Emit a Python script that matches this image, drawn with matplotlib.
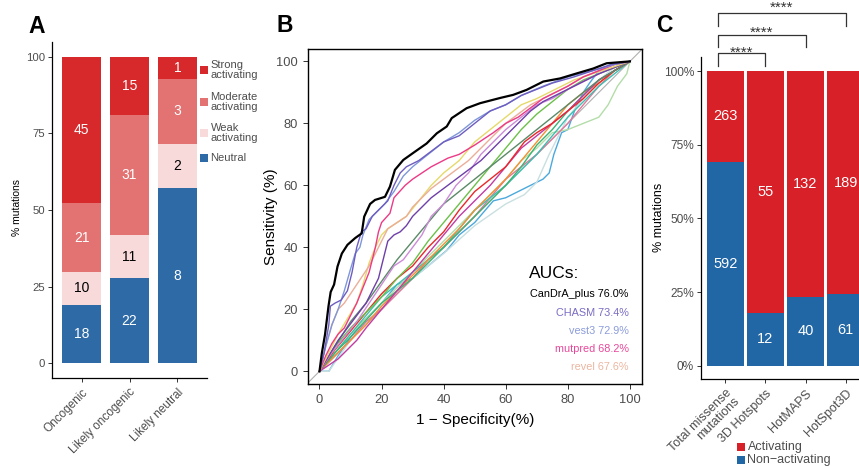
import matplotlib
matplotlib.use("Agg")
import matplotlib.pyplot as plt
from matplotlib.patches import Rectangle
import numpy as np

plt.rcParams['font.family'] = ['Liberation Sans', 'DejaVu Sans']

# ---------------- Panel A data ----------------
groups_a = ['Oncogenic', 'Likely oncogenic', 'Likely neutral']
neutral_n = [18, 22, 8]
weak_n = [10, 11, 2]
moderate_n = [21, 31, 3]
strong_n = [45, 15, 1]
legend_a = ['Strong\nactivating', 'Moderate\nactivating', 'Weak\nactivating', 'Neutral']

# ---------------- Panel B data (ROC curves, % units) ----------------
candra_fpr = [0, 0.75, 1.8, 2.9, 3.6, 4.7, 5.8, 7.2, 9, 11.5, 13.6, 14.4, 16.3, 17.9, 21.1, 22.7, 24.3, 27, 30.8,
              34.5, 37.8, 41, 42.6, 47.4, 51.7, 58.2, 62.4, 66.7, 72.1, 77.5, 82.8, 88.2, 92.5, 100]
candra_tpr = [0, 5.8, 12, 21, 25.6, 28, 33.8, 38, 40.8, 43, 44.5, 49.9, 54, 55.3, 56.3, 59.6, 65, 68.2, 70.9,
              73.5, 76.8, 79, 81.7, 84.9, 86.5, 88.2, 89.2, 90.8, 93.5, 94.5, 96.1, 97.7, 99.4, 100]
chasm_fpr = [0, 1.5, 3, 3.5, 5, 7, 9, 10.5, 12, 13.5, 15, 17, 20, 22, 24, 26, 28, 32, 36, 40, 45, 50, 55, 60,
             65, 70, 75, 82, 88, 94, 100]
chasm_tpr = [0, 6, 15, 21, 22, 23, 26, 32, 40, 45, 46, 50, 53, 55, 60, 64, 66, 68, 71, 74, 76, 80, 84, 86,
             89, 91, 93, 95, 97, 99, 100]
vest3_fpr = [0, 2, 4, 6, 8, 10, 11.5, 13, 14, 16, 18, 21, 24, 27, 30, 35, 40, 45, 50, 55, 60, 65, 72, 80, 88,
             95, 100]
vest3_tpr = [0, 8, 15, 20, 26, 33, 38, 40, 44, 49, 51, 54, 58, 63, 66, 70, 74, 77, 81, 84, 86, 89, 92, 95, 97,
             99, 100]
mutpred_fpr = [0, 2, 4, 6, 8, 10, 12, 14, 16, 17, 18, 19, 20, 22.7, 24, 27.6, 30, 33, 36, 41.4, 45, 50, 56,
               60, 64, 68, 72, 76, 80, 85, 90, 95, 100]
mutpred_tpr = [0, 5, 9, 12, 14, 18, 22, 27, 32, 36, 40, 45, 48, 51, 56, 60, 62, 64, 66, 68.8, 70, 73, 77,
               80, 82, 85, 88, 90, 92, 95, 97, 99, 100]
revel_fpr = [0, 2, 4, 6, 8, 10, 12, 14, 16, 18, 20, 22, 25, 28, 30, 33, 36, 40, 44, 48, 52, 56, 60, 64, 68,
             72, 76, 80, 85, 90, 95, 100]
revel_tpr = [0, 8, 15, 20, 22, 25, 28, 31, 34, 38, 42, 46, 48, 50, 53, 56, 59, 62, 65, 68, 72, 76, 80, 83, 86,
             88, 90, 92, 95, 97, 99, 100]
yellow_fpr = [0, 3, 6, 9, 12, 14, 16, 18, 20, 22, 25, 28, 32, 36, 40, 45, 50, 55, 60, 65, 70, 76, 82, 88, 94, 100]
yellow_tpr = [0, 6, 12, 17, 22, 28, 35, 40, 44, 46, 48, 50, 55, 60, 64, 68, 74, 78, 82, 86, 88, 91, 94, 96, 98, 100]
dpurple_fpr = [0, 3, 6, 9, 12, 15, 17, 19, 20, 21, 22, 24, 26, 28, 30, 33, 36, 40, 44, 48, 52, 56, 60, 64, 68,
               72, 78, 84, 90, 95, 100]
dpurple_tpr = [0, 5, 10, 14, 18, 22, 26, 30, 34, 38, 42, 44, 45, 47, 50, 53, 56, 59, 62, 65, 68, 72, 76, 80, 84,
               87, 90, 93, 96, 98, 100]
orchid_fpr = [0, 4, 8, 12, 16, 20, 24, 27, 30, 33, 36, 40, 44, 48, 52, 56, 60, 65, 70, 75, 80, 86, 92, 100]
orchid_tpr = [0, 6, 11, 16, 22, 28, 34, 36, 40, 44, 50, 54, 60, 64, 70, 74, 78, 82, 86, 88, 91, 94, 97, 100]
dgreen_fpr = [0, 5, 10, 15, 20, 25, 30, 35, 40, 45, 50, 55, 60, 65, 70, 75, 80, 85, 90, 95, 100]
dgreen_tpr = [0, 8, 16, 22, 29, 36, 42, 48, 54, 58, 62, 66, 70, 74, 78, 82, 86, 90, 94, 97, 100]
green_fpr = [0, 5, 10, 15, 20, 25, 30, 35, 40, 45, 50, 55, 60, 65, 70, 75, 80, 85, 90, 95, 100]
green_tpr = [0, 8, 14, 19, 24, 30, 35, 42, 48, 54, 60, 66, 72, 78, 83, 87, 91, 94, 96, 98, 100]
red_fpr = [0, 5, 10, 15, 20, 25, 30, 35, 40, 45, 50, 55, 60, 63, 66, 70, 75, 80, 85, 90, 95, 100]
red_tpr = [0, 7, 13, 19, 25, 30, 34, 40, 45, 52, 58, 62, 66, 70, 74, 77, 80, 84, 88, 93, 97, 100]
orange_fpr = [0, 5, 10, 15, 20, 25, 30, 35, 40, 45, 50, 55, 60, 65, 70, 75, 80, 85, 90, 95, 100]
orange_tpr = [0, 5, 10, 15, 21, 26, 31, 36, 41, 46, 52, 57, 62, 68, 74, 80, 86, 90, 93, 97, 100]
teal_fpr = [0, 5, 10, 15, 20, 25, 30, 35, 40, 45, 50, 55, 60, 65, 70, 75, 80, 85, 90, 95, 100]
teal_tpr = [0, 6, 12, 18, 24, 28, 32, 36, 40, 46, 52, 56, 60, 65, 70, 76, 82, 87, 92, 96, 100]
mgreen_fpr = [0, 5, 10, 20, 30, 40, 50, 55, 60, 65, 70, 75, 80, 85, 90, 95, 100]
mgreen_tpr = [0, 6, 11, 22, 30, 40, 50, 55, 60, 66, 73, 78, 84, 89, 94, 97, 100]
lpink_fpr = [0, 5, 10, 15, 20, 25, 30, 35, 40, 45, 50, 55, 60, 65, 70, 75, 80, 85, 90, 95, 100]
lpink_tpr = [0, 5, 10, 16, 20, 25, 30, 36, 40, 45, 50, 56, 62, 66, 70, 75, 80, 86, 92, 97, 100]
magenta_fpr = [0, 3, 6, 9, 12, 15, 20, 25, 30, 35, 40, 45, 50, 55, 60, 65, 70, 75, 80, 85, 90, 95, 100]
magenta_tpr = [0, 2, 4, 7, 10, 14, 20, 26, 32, 38, 44, 50, 55, 60, 66, 72, 76, 80, 84, 89, 94, 97, 100]
lgreen_fpr = [0, 5, 10, 20, 30, 40, 50, 60, 65, 70, 75, 80, 85, 90, 93, 96, 99, 100]
lgreen_tpr = [0, 6, 12, 22, 32, 42, 52, 62, 68, 72, 77, 78, 80, 82, 86, 92, 96, 100]
lcyan_fpr = [0, 3, 10, 20, 30, 40, 50, 60, 66, 70, 74, 78, 80, 85, 90, 95, 100]
lcyan_tpr = [0, 0, 10, 21, 30, 38, 47, 54, 57, 61, 70, 78, 82, 88, 94, 98, 100]
cyan_fpr = [0, 3, 6, 10, 14, 20, 25, 30, 35, 41, 45, 50, 56, 60, 66, 72, 74, 75.5, 78, 80, 82.5, 85, 87, 90, 94, 100]
cyan_tpr = [0, 0, 5, 11, 16, 22, 28, 30, 34, 39, 44, 48, 55, 56, 59, 62, 64, 70, 77, 78, 85, 90, 93, 97, 99, 100]

auc_labels = ['CanDrA_plus 76.0%', 'CHASM 73.4%', 'vest3 72.9%', 'mutpred 68.2%', 'revel 67.6%']

# ---------------- Panel C data ----------------
groups_c = ['Total missense\nmutations', '3D Hotspots', 'HotMAPS', 'HotSpot3D']
activating_n = [263, 55, 132, 189]
nonactivating_n = [592, 12, 40, 61]
sig_labels = ['****', '****', '****']

# ---------------- figure ----------------
W, H = 859, 466
fig = plt.figure(figsize=(W / 100, H / 100), dpi=100)


def rect(x0, y0, x1, y1):
    return [x0 / W, 1 - y1 / H, (x1 - x0) / W, (y1 - y0) / H]


def ftext(x, y, s, **kw):
    fig.text(x / W, 1 - y / H, s, **kw)


grey = '#4D4D4D'
c_strong, c_mod, c_weak, c_neu = '#D7282B', '#E37272', '#F9DADA', '#2D6AA6'

# ---------- Panel A ----------
axA = fig.add_axes(rect(52, 42, 207, 378))
tot = np.array(neutral_n) + np.array(weak_n) + np.array(moderate_n) + np.array(strong_n)
xa = np.arange(len(groups_a))
bottom = np.zeros(len(groups_a))
for vals, col, tcol in [(neutral_n, c_neu, 'white'), (weak_n, c_weak, 'black'),
                        (moderate_n, c_mod, 'white'), (strong_n, c_strong, 'white')]:
    pct = np.array(vals) / tot * 100
    axA.bar(xa, pct, bottom=bottom, width=0.81, color=col, linewidth=0)
    for i in range(len(xa)):
        axA.text(xa[i], bottom[i] + pct[i] / 2, str(vals[i]), ha='center', va='center',
                 color=tcol, fontsize=10)
    bottom = bottom + pct
axA.set_xlim(-0.615, 2.615)
axA.set_ylim(-4.8, 104.8)
axA.set_yticks([0, 25, 50, 75, 100])
axA.set_xticks(xa)
axA.set_xticklabels(groups_a, rotation=45, ha='right', va='top', rotation_mode='anchor', fontsize=8.5, color=grey)
axA.tick_params(axis='y', labelsize=8.2, labelcolor=grey, length=3, width=0.7, color='#333333', pad=2)
axA.tick_params(axis='x', length=3, width=0.7, color='#333333', pad=3)
for s in ['top', 'right']:
    axA.spines[s].set_visible(False)
for s in ['left', 'bottom']:
    axA.spines[s].set_linewidth(0.9)
ftext(17, 207, '% mutations', rotation=90, ha='center', va='center', fontsize=7.5)

# legend A (manual)
leg_cols = [c_strong, c_mod, c_weak, c_neu]
leg_y = [70, 102, 133, 158]
for lab, col, yy in zip(legend_a, leg_cols, leg_y):
    fig.patches.append(Rectangle((200 / W, 1 - (yy + 4) / H), 7.5 / W, 8 / H, transform=fig.transFigure,
                                 color=col, linewidth=0))
    ftext(210.5, yy, lab, ha='left', va='center', fontsize=8, color=grey, linespacing=0.95)

# ---------- Panel B ----------
axB = fig.add_axes(rect(307.7, 49, 642, 384))
axB.plot([-10, 110], [-10, 110], color='#B0B0B0', lw=0.8, zorder=1)
curves = [
    (cyan_fpr, cyan_tpr, '#4BA9DD'),
    (lcyan_fpr, lcyan_tpr, '#C9DFE0'),
    (lgreen_fpr, lgreen_tpr, '#B3DDA8'),
    (lpink_fpr, lpink_tpr, '#E0779A'),
    (teal_fpr, teal_tpr, '#3DBFB0'),
    (orange_fpr, orange_tpr, '#F39033'),
    (mgreen_fpr, mgreen_tpr, '#3CB371'),
    (magenta_fpr, magenta_tpr, '#C23BA3'),
    (red_fpr, red_tpr, '#E8282A'),
    (green_fpr, green_tpr, '#6CC04A'),
    (dgreen_fpr, dgreen_tpr, '#5A8A68'),
    (orchid_fpr, orchid_tpr, '#CC8AD8'),
    (dpurple_fpr, dpurple_tpr, '#6E3FA8'),
    (yellow_fpr, yellow_tpr, '#E6D96A'),
    (revel_fpr, revel_tpr, '#EBAE98'),
    (mutpred_fpr, mutpred_tpr, '#EC3A86'),
    (vest3_fpr, vest3_tpr, '#7E97DA'),
    (chasm_fpr, chasm_tpr, '#6E5DC0'),
]
for fx, fy, col in curves:
    axB.plot(fx, fy, color=col, lw=1.0, zorder=2)
axB.plot(candra_fpr, candra_tpr, color='black', lw=1.6, zorder=3)
axB.set_xlim(-3.8, 103.9)
axB.set_ylim(-4.1, 104.0)
axB.set_xticks([0, 20, 40, 60, 80, 100])
axB.set_yticks([0, 20, 40, 60, 80, 100])
axB.tick_params(labelsize=9.3, labelcolor=grey, length=3.5, width=0.7, color='#333333')
for s in axB.spines.values():
    s.set_linewidth(1.0)
axB.set_xlabel('1 \u2212 Specificity(%)', fontsize=11, labelpad=5.5)
axB.set_ylabel('Sensitivity (%)', fontsize=11, labelpad=-1)
axB.text(67.5, 31.7, 'AUCs:', fontsize=12.5, ha='left', va='center')
auc_cols = ['black', '#7B6CC4', '#8C9DDA', '#E8489A', '#EBB6A0']
for i, (lab, col) in enumerate(zip(auc_labels, auc_cols)):
    axB.text(99.6, 24.8 - i * 5.85, lab, fontsize=7.8, ha='right', va='center', color=col)

# ---------- Panel C ----------
axC = fig.add_axes(rect(701, 57, 870, 379))
c_act, c_non = '#D72027', '#2166A5'
totc = np.array(activating_n) + np.array(nonactivating_n)
xc = np.arange(len(groups_c))
non_f = np.array(nonactivating_n) / totc
act_f = np.array(activating_n) / totc
axC.bar(xc, non_f, width=0.92, color=c_non, linewidth=0)
axC.bar(xc, act_f, bottom=non_f, width=0.92, color=c_act, linewidth=0)
for i in range(len(xc)):
    axC.text(xc[i], non_f[i] / 2, str(nonactivating_n[i]), ha='center', va='center', color='white', fontsize=10.5)
    axC.text(xc[i], non_f[i] + act_f[i] / 2, str(activating_n[i]), ha='center', va='center', color='white',
             fontsize=10.5)
axC.set_xlim(-0.61, 3.61)
axC.set_ylim(-0.045, 1.048)
axC.set_yticks([0, 0.25, 0.5, 0.75, 1.0])
axC.set_yticklabels(['0%', '25%', '50%', '75%', '100%'])
axC.set_xticks(xc)
axC.set_xticklabels(groups_c, rotation=45, ha='right', va='top', rotation_mode='anchor', fontsize=9,
                    color=grey, multialignment='right', linespacing=0.95)
axC.tick_params(axis='y', labelsize=8.6, labelcolor=grey, length=3, width=0.7, color='#333333', pad=2)
axC.tick_params(axis='x', length=3, width=0.7, color='#333333', pad=3)
for s in ['top', 'right']:
    axC.spines[s].set_visible(False)
for s in ['left', 'bottom']:
    axC.spines[s].set_linewidth(0.9)
ftext(659, 217, '% mutations', rotation=90, ha='center', va='center', fontsize=9)

# significance brackets
br = [(1, 1.017, 1.061), (2, 1.082, 1.122), (3, 1.153, 1.197)]
star_centers = [1.080, 1.146, 1.231]
for (xe, ylo, yhi), lab, sc in zip(br, sig_labels, star_centers):
    x0 = -0.19
    axC.plot([x0, x0, xe, xe], [ylo, yhi, yhi, ylo], color='#333333', lw=0.9, clip_on=False)
    axC.text((x0 + xe) / 2, sc - 0.030, lab, ha='center', va='baseline', fontsize=11, color='#333333',
             clip_on=False)

# legend C
for lab, col, yy in [('Activating', c_act, 447), ('Non\u2212activating', c_non, 460)]:
    fig.patches.append(Rectangle((737 / W, 1 - (yy + 4) / H), 8 / W, 8 / H, transform=fig.transFigure,
                                 color=col, linewidth=0))
    ftext(747.5, yy, lab, ha='left', va='center', fontsize=9, color=grey)

# panel letters
ftext(28, 33, 'A', fontsize=16.5, fontweight='bold', ha='left', va='baseline')
ftext(277, 32, 'B', fontsize=16.5, fontweight='bold', ha='left', va='baseline')
ftext(656, 32, 'C', fontsize=16.5, fontweight='bold', ha='left', va='baseline')

fig.savefig('out.png', dpi=100)
